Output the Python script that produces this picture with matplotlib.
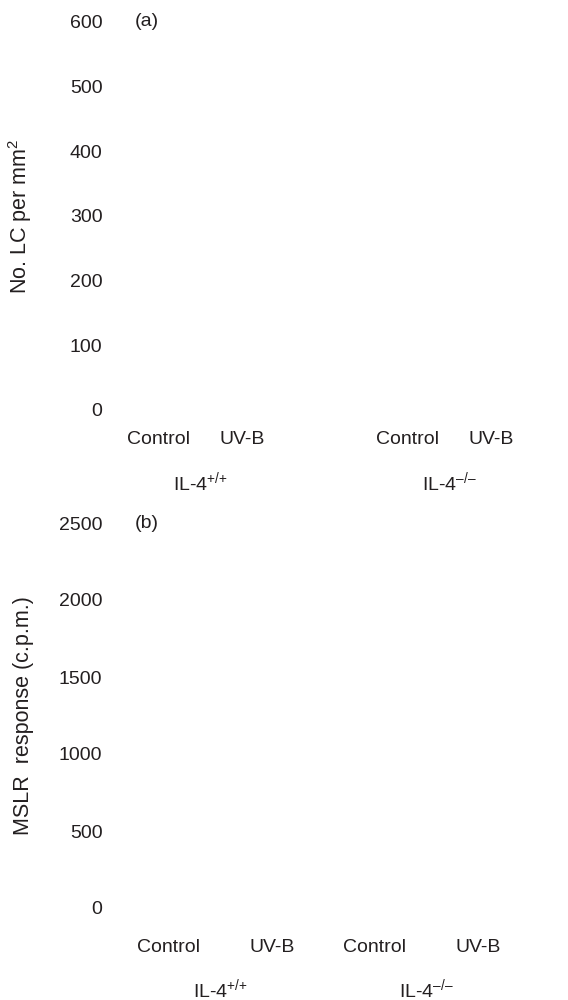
import matplotlib
matplotlib.use("Agg")
import matplotlib.pyplot as plt
from matplotlib.transforms import blended_transform_factory

plt.rcParams["font.family"] = ["Liberation Sans", "DejaVu Sans"]
plt.rcParams["mathtext.fontset"] = "custom"
plt.rcParams["mathtext.rm"] = "Liberation Sans"
plt.rcParams["mathtext.it"] = "Liberation Sans"
plt.rcParams["mathtext.sf"] = "Liberation Sans"
plt.rcParams["mathtext.default"] = "regular"

INK = "#231f20"
FS = 14
FS_LABEL = 15.5

# Panel (a): Langerhans cell density
a_treatments = ["Control", "UV-B", "Control", "UV-B"]
a_positions = [0, 1, 3, 4]
a_groups = [r"IL-4$^{\text{+/+}}$", r"IL-4$^{\text{–/–}}$"]
a_group_positions = [0.5, 3.5]
a_yticks = [0, 100, 200, 300, 400, 500, 600]
a_ylabel = r"No. LC per mm$^{2}$"

# Panel (b): mixed skin lymphocyte reaction
b_treatments = ["Control", "UV-B", "Control", "UV-B"]
b_positions = [0, 1, 2, 3]
b_groups = [r"IL-4$^{\text{+/+}}$", r"IL-4$^{\text{–/–}}$"]
b_group_positions = [0.5, 2.5]
b_yticks = [0, 500, 1000, 1500, 2000, 2500]
b_ylabel = "MSLR  response (c.p.m.)"

W, H = 568, 1000
fig = plt.figure(figsize=(W / 100, H / 100), dpi=100)
fig.patch.set_facecolor("white")


def make_panel(rect_px, xlim, positions, treatments, groups, group_pos,
               yticks, ylabel, tag, xpad, group_offset):
    left, top, right, bottom = rect_px
    ax = fig.add_axes([left / W, 1 - bottom / H, (right - left) / W,
                       (bottom - top) / H])
    ax.set_xlim(*xlim)
    ax.set_ylim(yticks[0], yticks[-1])
    for s in ax.spines.values():
        s.set_visible(False)
    ax.set_yticks(yticks)
    ax.set_yticklabels([str(t) for t in yticks], fontsize=FS, color=INK)
    ax.set_xticks(positions)
    ax.set_xticklabels(treatments, fontsize=FS, color=INK)
    ax.tick_params(axis="y", length=0, pad=8)
    ax.tick_params(axis="x", length=0, pad=xpad)
    ax.set_ylabel(ylabel, fontsize=FS_LABEL, color=INK)
    ax.yaxis.set_label_coords((34 - left) / (right - left), 0.5)
    ax.text((135 - left) / (right - left), 1.0, tag, transform=ax.transAxes,
            fontsize=FS, color=INK, ha="left", va="center")
    trans = blended_transform_factory(ax.transData, ax.transAxes)
    for g, gx in zip(groups, group_pos):
        ax.annotate(g, xy=(gx, 0), xycoords=trans,
                    xytext=(0, -group_offset), textcoords="offset pixels",
                    fontsize=FS, color=INK, ha="center", va="center")
    return ax


left_px, right_px = 113.6, 540.0
make_panel((left_px, 22, right_px, 410),
           ((left_px - 159) / 83, (right_px - 159) / 83),
           a_positions, a_treatments, a_groups, a_group_positions,
           a_yticks, a_ylabel, "(a)", 15, 72)
make_panel((left_px, 523, right_px, 908),
           ((left_px - 169) / 103, (right_px - 169) / 103),
           b_positions, b_treatments, b_groups, b_group_positions,
           b_yticks, b_ylabel, "(b)", 22, 81)

fig.savefig("out.png", dpi=100, facecolor="white")
